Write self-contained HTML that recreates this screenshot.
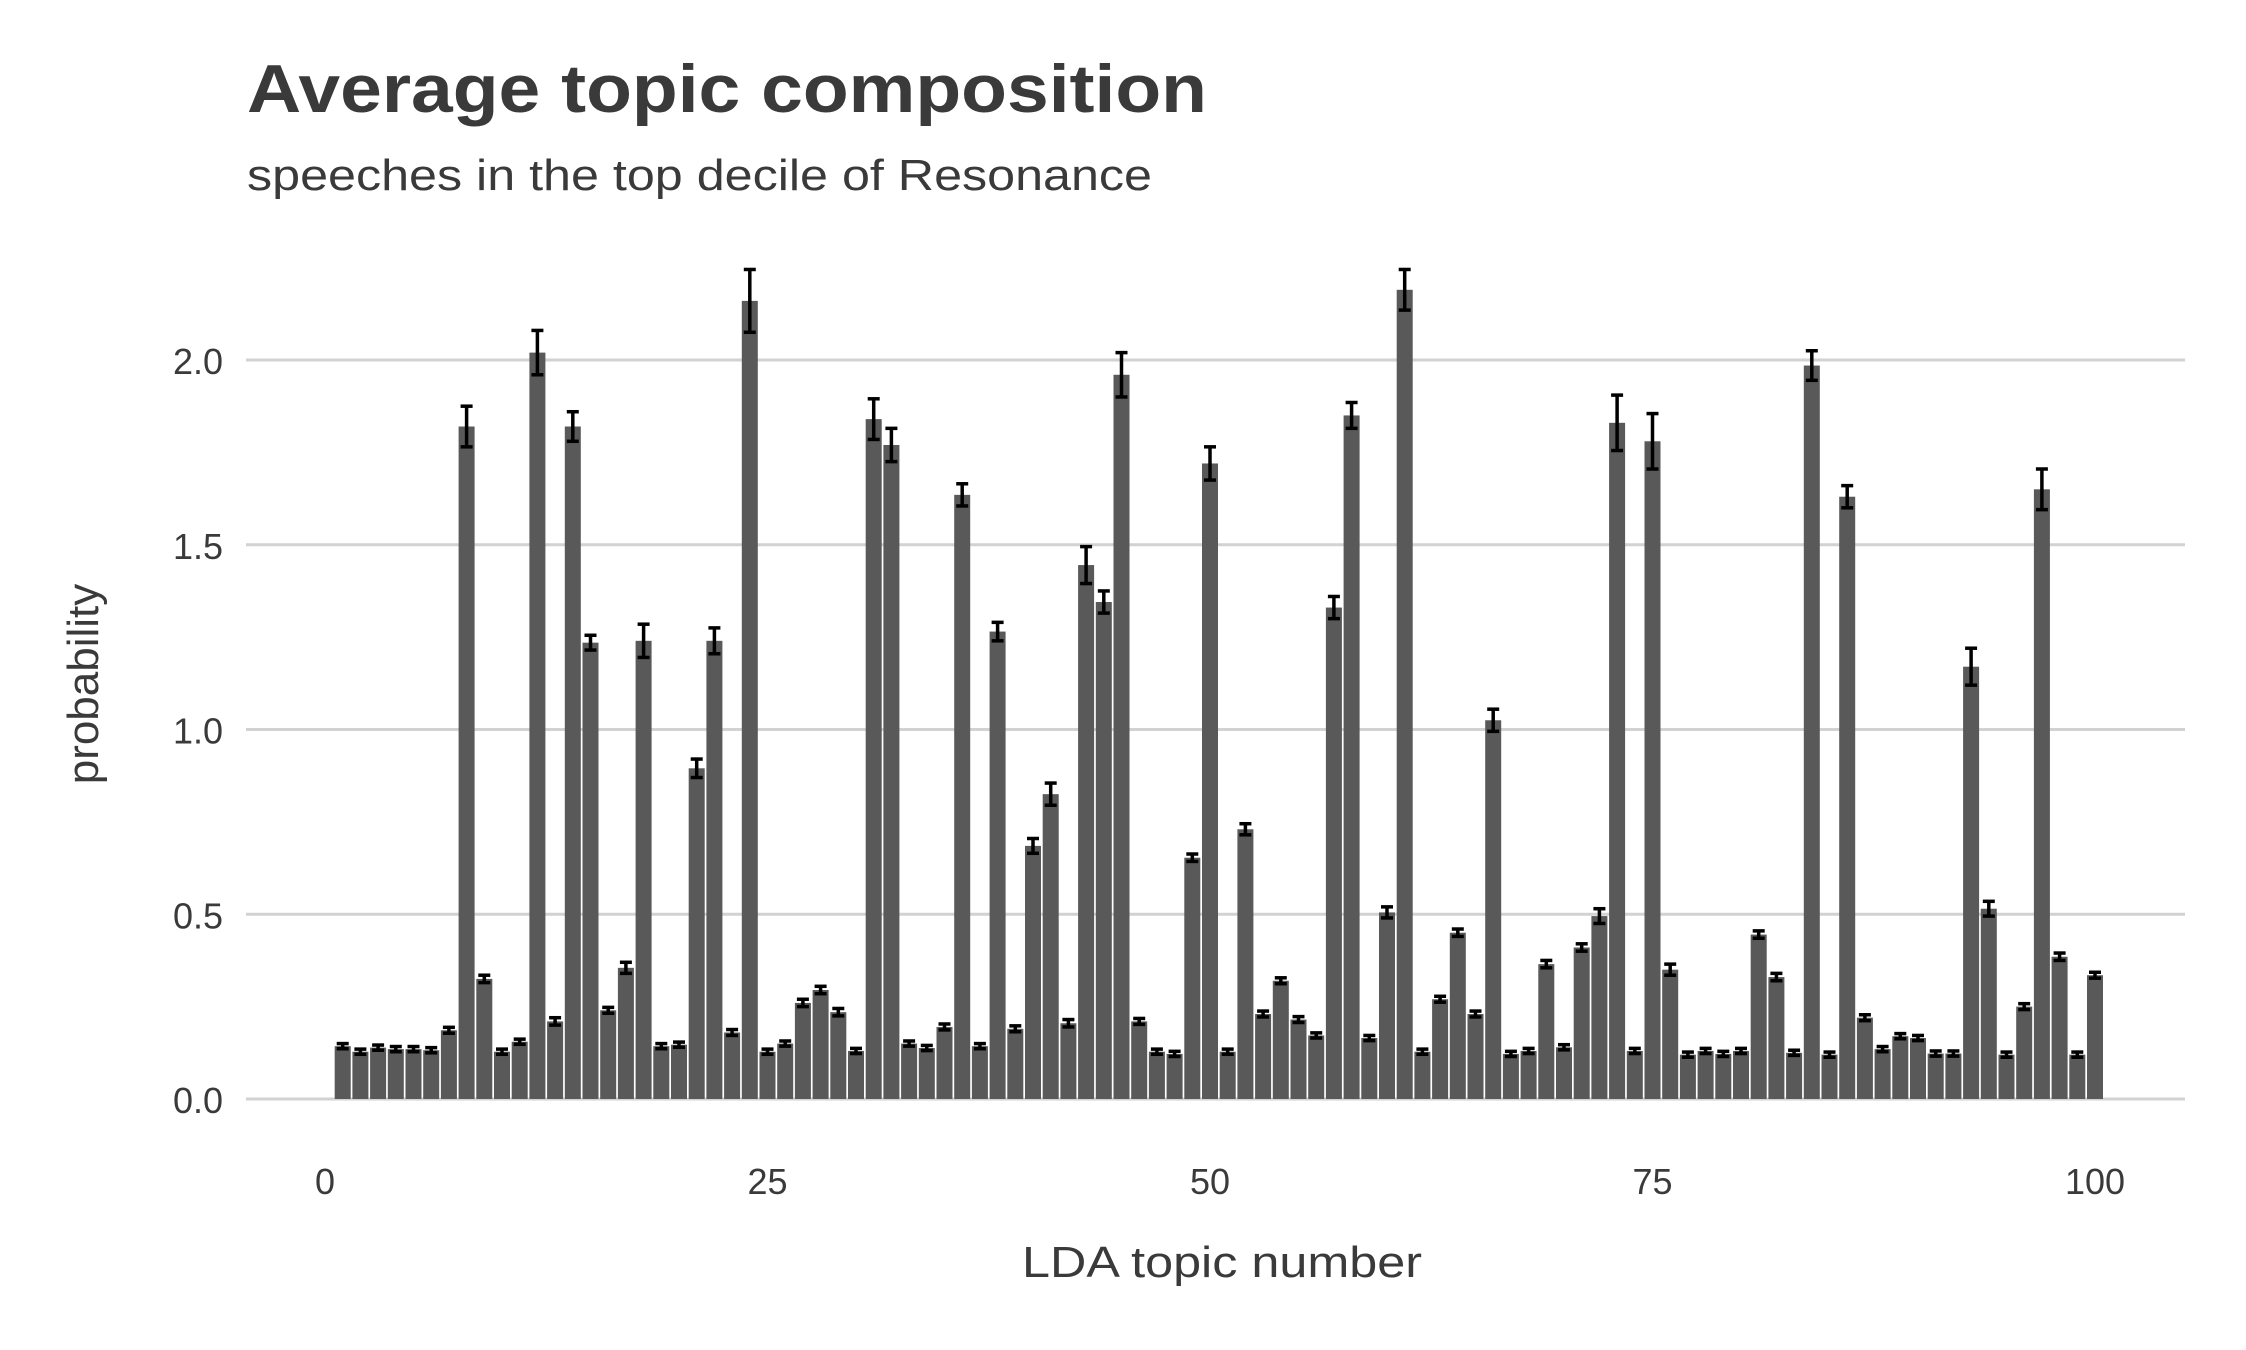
<!DOCTYPE html>
<html><head><meta charset="utf-8"><style>
html,body{margin:0;padding:0;background:#fff;}
svg{display:block;font-family:"Liberation Sans",Arial,sans-serif;}
</style></head><body>
<svg id="chart" width="2246" height="1350" viewBox="0 0 2246 1350" xmlns="http://www.w3.org/2000/svg">
<rect width="2246" height="1350" fill="#fff"/>
<text x="247" y="112" font-size="68" font-weight="bold" fill="#3a3a3a" textLength="960" lengthAdjust="spacingAndGlyphs">Average topic composition</text>
<text x="247" y="190" font-size="44" fill="#3a3a3a" textLength="905" lengthAdjust="spacingAndGlyphs">speeches in the top decile of Resonance</text>
<text transform="translate(98,684) rotate(-90)" text-anchor="middle" font-size="44" fill="#3a3a3a">probability</text>
<text x="1222" y="1277" text-anchor="middle" font-size="44" fill="#3a3a3a" textLength="400" lengthAdjust="spacingAndGlyphs">LDA topic number</text>
<g id="grid"></g><g id="bars"></g><g id="errs"></g><g id="yticks"></g><g id="xticks"></g>
</svg>
<script>
const topics = Array.from({length:100},(_,i)=>i+1);
const values = [0.143,0.128,0.139,0.135,0.135,0.132,0.186,1.82,0.325,0.128,
0.155,2.02,0.21,1.82,1.235,0.24,0.355,1.24,0.143,0.147,
0.895,1.24,0.18,2.16,0.128,0.15,0.26,0.295,0.235,0.13,
1.84,1.77,0.15,0.138,0.195,1.635,0.143,1.265,0.19,0.685,
0.825,0.205,1.445,1.345,1.96,0.21,0.128,0.122,0.653,1.72,
0.128,0.73,0.23,0.32,0.215,0.172,1.33,1.85,0.165,0.505,
2.19,0.128,0.27,0.45,0.23,1.025,0.122,0.13,0.365,0.14,
0.41,0.495,1.83,0.13,1.78,0.35,0.12,0.13,0.122,0.13,
0.445,0.33,0.125,1.985,0.12,1.63,0.22,0.135,0.17,0.165,
0.123,0.123,1.17,0.515,0.12,0.25,1.65,0.385,0.12,0.335];
const errors = [0.007,0.007,0.007,0.007,0.007,0.007,0.008,0.055,0.01,0.007,
0.007,0.06,0.01,0.04,0.02,0.008,0.015,0.045,0.007,0.007,
0.025,0.035,0.008,0.085,0.007,0.007,0.01,0.01,0.01,0.007,
0.055,0.045,0.007,0.007,0.008,0.03,0.007,0.025,0.008,0.02,
0.03,0.01,0.05,0.03,0.06,0.008,0.007,0.007,0.01,0.045,
0.007,0.015,0.008,0.008,0.008,0.007,0.03,0.035,0.007,0.015,
0.055,0.007,0.008,0.01,0.008,0.03,0.007,0.007,0.01,0.007,
0.01,0.02,0.075,0.007,0.075,0.015,0.007,0.007,0.007,0.007,
0.01,0.01,0.007,0.04,0.007,0.03,0.008,0.007,0.007,0.007,
0.007,0.007,0.05,0.02,0.007,0.008,0.055,0.01,0.007,0.008];
const yTicks = [0,0.5,1,1.5,2];
const yTickLabels = ["0.0","0.5","1.0","1.5","2.0"];
const xTicks = [0,25,50,75,100];
const xTickLabels = ["0","25","50","75","100"];

const NS="http://www.w3.org/2000/svg";
const X0=325, XU=17.7, Y0=1099, YU=369.5;
function xs(v){return X0+v*XU;}
function ys(v){return Y0-v*YU;}
function mk(tag,attrs,parent){const e=document.createElementNS(NS,tag);for(const k in attrs)e.setAttribute(k,attrs[k]);document.getElementById(parent).appendChild(e);return e;}

yTicks.forEach((t,i)=>{
  const l=mk('line',{x1:246,x2:2185,y1:ys(t),y2:ys(t),stroke:'#d2d2d2','stroke-width':3},'grid');
  
  
  const tx=mk('text',{x:223,y:ys(t)+14,'text-anchor':'end','font-size':36,fill:'#3a3a3a'},'yticks');
  tx.textContent=yTickLabels[i];
  
  
});
xTicks.forEach((t,i)=>{
  const tx=mk('text',{x:xs(t),y:1194,'text-anchor':'middle','font-size':36,fill:'#3a3a3a'},'xticks');
  tx.textContent=xTickLabels[i];
  
  
});
const BW=16;
topics.forEach((t,i)=>{
  const v=values[i], e=errors[i];
  const r=mk('rect',{x:xs(t)-BW/2,y:ys(v),width:BW,height:Y0-ys(v),fill:'#595959'},'bars');
  
  
  const g=document.createElementNS(NS,'g');
  
  
  document.getElementById('errs').appendChild(g);
  const top=ys(v+e), bot=ys(v-e);
  [[xs(t),top,xs(t),bot],[xs(t)-6,top,xs(t)+6,top],[xs(t)-6,bot,xs(t)+6,bot]].forEach(c=>{
    const l=document.createElementNS(NS,'line');
    l.setAttribute('x1',c[0]);l.setAttribute('y1',c[1]);l.setAttribute('x2',c[2]);l.setAttribute('y2',c[3]);
    l.setAttribute('stroke','#000');l.setAttribute('stroke-width',3.5);
    g.appendChild(l);
  });
});
</script>
</body></html>
